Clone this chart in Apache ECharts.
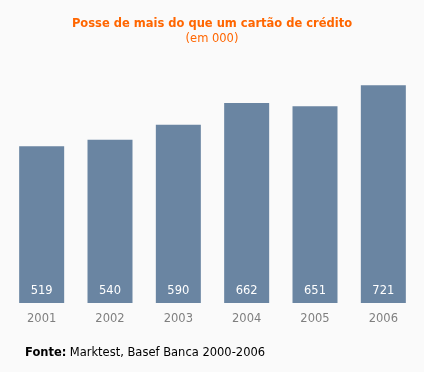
<!DOCTYPE html>
<html><head><meta charset="utf-8">
<script src="https://cdn.jsdelivr.net/npm/echarts@6/dist/echarts.min.js"></script>
<style>html,body{margin:0;padding:0;background:#fafafa;}#c{width:424px;height:372px;}</style>
</head><body><div id="c"></div>
<script>
const categories = ['2001','2002','2003','2004','2005','2006'];
const values = [519, 540, 590, 662, 651, 721];
const titleText = 'Posse de mais do que um cartão de crédito';
const subtitleText = '(em 000)';

const chart = echarts.init(document.getElementById('c'), null, {renderer:'canvas'});
const F = '"DejaVu Sans", Verdana, sans-serif';
chart.setOption({
  backgroundColor: '#fafafa',
  animation: false,
  title: {
    text: titleText, subtext: subtitleText, left: 'center', top: 13, itemGap: 3,
    textStyle: {color: '#ff6600', fontSize: 11.5, fontWeight: 'bold', fontFamily: F},
    subtextStyle: {color: '#ff6600', fontSize: 11.5, fontFamily: F}
  },
  graphic: [{
    type: 'text', left: 25, top: 347,
    style: {rich: {b: {fontWeight: 'bold', fontSize: 11.5, fontFamily: F, fill: '#000'}, n: {fontSize: 11.5, fontFamily: F, fill: '#000'}},
      text: '{b|Fonte:} {n|Marktest, Basef Banca 2000-2006}'}
  }],
  grid: {left: 7.5, right: 6.5, top: 61.3, bottom: 69, containLabel: false},
  xAxis: {
    type: 'category', data: categories,
    axisLine: {show: false}, axisTick: {show: false},
    axisLabel: {color: '#7f7f7f', fontSize: 11.5, fontFamily: F, margin: 10}
  },
  yAxis: {type: 'value', min: 0, max: 800, show: false, splitLine: {show: false}},
  series: [{
    type: 'bar', data: values, barWidth: 45,
    itemStyle: {color: '#6a85a2'},
    label: {show: true, position: 'insideBottom', distance: 6, color: '#fff', fontSize: 11.5, fontFamily: F}
  }]
});
</script></body></html>
